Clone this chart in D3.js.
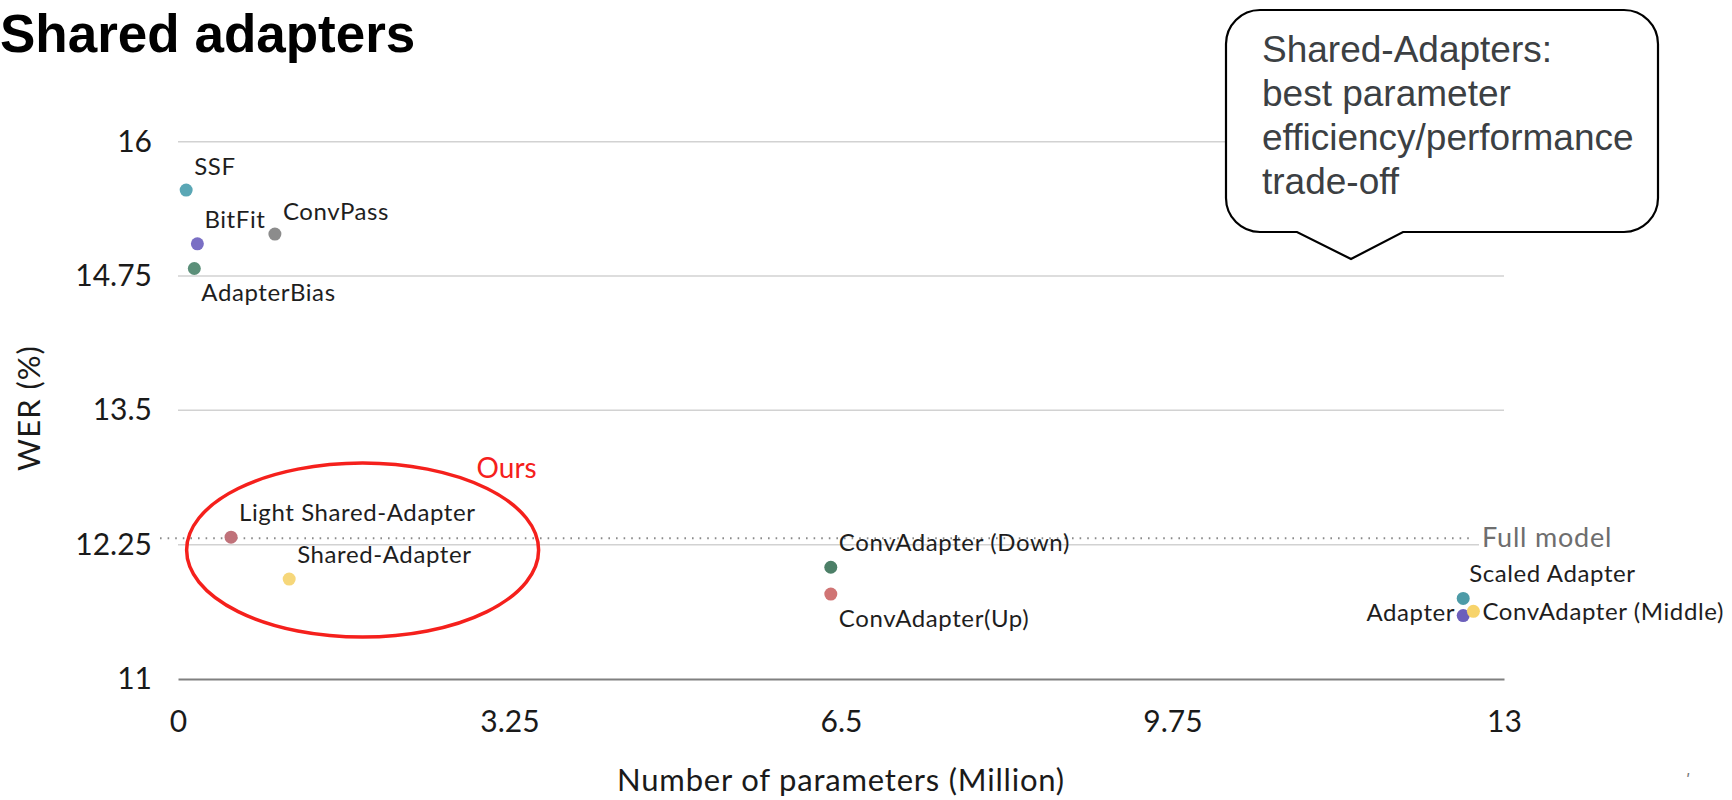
<!DOCTYPE html>
<html>
<head>
<meta charset="utf-8">
<script src="https://cdn.jsdelivr.net/npm/d3@7"></script>
<style>
body{margin:0;background:#fff;}
svg{display:block;}
.axis text{font-family:Lato,"Noto Sans",sans-serif;fill:#1a1a1a;}
</style>
</head>
<body>
<div class="chart"></div>
<script>
// values
const methods = ["SSF","BitFit","AdapterBias","ConvPass","Light Shared-Adapter","Shared-Adapter",
    "ConvAdapter (Down)","ConvAdapter(Up)","Scaled Adapter","Adapter","ConvAdapter (Middle)"];
const params = [0.08,0.19,0.16,0.95,0.52,1.09,6.40,6.40,12.60,12.60,12.70];
const wer = [15.55,15.05,14.82,15.14,12.32,11.93,12.04,11.79,11.75,11.59,11.63];
const fullModelWER = 12.31;
const xTicks = [0,3.25,6.5,9.75,13];
const yTicks = [11,12.25,13.5,14.75,16];
const calloutLines = ["Shared-Adapters:","best parameter","efficiency/performance","trade-off"];

// styling
const pointColors = ["#5aa7b5","#7a6fc4","#5b8f79","#8c8c8c","#c0727a","#f6d77a",
    "#4c7f67","#d07474","#4d9ba7","#6c5fbb","#f7d36a"];
// label offsets [dx, dy, anchor]
const labelPos = {
    "SSF":[8,-15,"start"],
    "BitFit":[7,-16,"start"],
    "AdapterBias":[7,33,"start"],
    "ConvPass":[8,-14,"start"],
    "Light Shared-Adapter":[8,-16,"start"],
    "Shared-Adapter":[8,-16,"start"],
    "ConvAdapter (Down)":[8,-16,"start"],
    "ConvAdapter(Up)":[8,33,"start"],
    "Scaled Adapter":[6,-16,"start"],
    "Adapter":[-8,5,"end"],
    "ConvAdapter (Middle)":[9,9,"start"]
};

const data = methods.map((m,i)=>({name:m, params:params[i], wer:wer[i], color:pointColors[i]}));

const W = 1732, H = 800;
const margin = {top:141.7, left:178, right:228, bottom:121};
const width = W - margin.left - margin.right;
const height = H - margin.top - margin.bottom;
const fmt = d3.format("");

const root = d3.select(".chart").append("svg")
    .attr("width", W)
    .attr("height", H);

root.append("text")
    .attr("x",0)
    .attr("y",52)
    .attr("font-family","'Liberation Sans',Arial,sans-serif")
    .attr("font-weight","bold")
    .attr("font-size",53)
    .attr("fill","#000")
    .text("Shared adapters");

const svg = root.append("g")
    .attr("transform", `translate(${margin.left},${margin.top})`);

const xScale = d3.scaleLinear().domain([0,13]).range([0,width]);
const yScale = d3.scaleLinear().domain([11,16]).range([height,0]);

// gridlines
svg.selectAll(".grid")
    .data(yTicks.filter(d=>d!==11))
    .enter()
    .append("line")
    .attr("class","grid")
    .attr("x1",0)
    .attr("x2",width)
    .attr("y1",d=>yScale(d))
    .attr("y2",d=>yScale(d))
    .attr("stroke","#d2d2d2")
    .attr("stroke-width",1.5);

const yAxis = d3.axisLeft(yScale)
    .tickValues(yTicks)
    .tickFormat(fmt)
    .tickSize(0)
    .tickPadding(26);
svg.append("g")
    .attr("class","axis y-axis")
    .call(yAxis)
    .call(g=>g.select(".domain").remove())
    .selectAll("text")
    .attr("font-size",30);

const xAxis = d3.axisBottom(xScale)
    .tickValues(xTicks)
    .tickFormat(fmt)
    .tickSize(0)
    .tickPadding(32);
svg.append("g")
    .attr("class","axis x-axis")
    .attr("transform",`translate(0,${height})`)
    .call(xAxis)
    .call(g=>g.select(".domain").attr("stroke","#808080").attr("stroke-width",2))
    .selectAll("text")
    .attr("font-size",30);

// full model reference
svg.append("line")
    .attr("x1",-18)
    .attr("x2",width-34)
    .attr("y1",yScale(fullModelWER))
    .attr("y2",yScale(fullModelWER))
    .attr("stroke","#8a8a8a")
    .attr("stroke-width",2)
    .attr("stroke-dasharray","1.6,6");

const fm = svg.append("g");
const fmText = fm.append("text")
    .attr("x",width-22)
    .attr("y",yScale(fullModelWER)+9)
    .attr("font-family","Lato,'Noto Sans',sans-serif")
    .attr("font-size",27)
    .attr("letter-spacing",0.8)
    .attr("fill","#6e6e6e")
    .text("Full model");
const bb = fmText.node().getBBox();
fm.insert("rect","text")
    .attr("x",bb.x-3).attr("y",bb.y).attr("width",bb.width+6).attr("height",bb.height)
    .attr("fill","#fff");

// points
svg.selectAll(".pt")
    .data(data)
    .enter()
    .append("circle")
    .attr("class","pt")
    .attr("cx",d=>xScale(d.params))
    .attr("cy",d=>yScale(d.wer))
    .attr("r",6.5)
    .attr("fill",d=>d.color);

svg.selectAll(".pt-label")
    .data(data)
    .enter()
    .append("text")
    .attr("class","pt-label")
    .attr("x",d=>xScale(d.params)+labelPos[d.name][0])
    .attr("y",d=>yScale(d.wer)+labelPos[d.name][1])
    .attr("text-anchor",d=>labelPos[d.name][2])
    .attr("font-family","Lato,'Noto Sans',sans-serif")
    .attr("font-size",24)
    .attr("letter-spacing",0.6)
    .attr("fill","#1e1e1e")
    .text(d=>d.name);

// "Ours" ellipse
svg.append("ellipse")
    .attr("cx",xScale(1.81))
    .attr("cy",yScale(12.2))
    .attr("rx",176)
    .attr("ry",87)
    .attr("fill","none")
    .attr("stroke","#f5201c")
    .attr("stroke-width",3.5);
svg.append("text")
    .attr("x",xScale(1.81)+114)
    .attr("y",yScale(12.2)-72)
    .attr("font-family","Lato,'Noto Sans',sans-serif")
    .attr("font-size",28)
    .attr("fill","#f5201c")
    .text("Ours");

// axis titles
svg.append("text")
    .attr("x",width/2)
    .attr("y",height+112)
    .attr("text-anchor","middle")
    .attr("font-family","Lato,'Noto Sans',sans-serif")
    .attr("font-size",31)
    .attr("letter-spacing",0.8)
    .attr("fill","#1a1a1a")
    .text("Number of parameters (Million)");

root.append("text")
    .attr("transform","translate(40,408) rotate(-90)")
    .attr("text-anchor","middle")
    .attr("font-family","Lato,'Noto Sans',sans-serif")
    .attr("font-size",31)
    .attr("letter-spacing",1)
    .attr("fill","#1a1a1a")
    .text("WER (%)");

// callout bubble
const L=1226, R=1658, T=10, B=232, rr=34;
root.append("path")
    .attr("d",`M${L+rr},${T} H${R-rr} A${rr},${rr} 0 0 1 ${R},${T+rr} V${B-rr} A${rr},${rr} 0 0 1 ${R-rr},${B}
        H1403 L1351,259 L1297,${B} H${L+rr} A${rr},${rr} 0 0 1 ${L},${B-rr} V${T+rr} A${rr},${rr} 0 0 1 ${L+rr},${T} Z`)
    .attr("fill","#fff")
    .attr("stroke","#000")
    .attr("stroke-width",2.2);

root.selectAll(".callout")
    .data(calloutLines)
    .enter()
    .append("text")
    .attr("class","callout")
    .attr("x",1262)
    .attr("y",(d,i)=>62+i*44)
    .attr("font-family","'Liberation Sans',Arial,sans-serif")
    .attr("font-size",37)
    .attr("fill","#3c4043")
    .text(d=>d);

// small stray mark bottom right
root.append("text")
    .attr("x",1686)
    .attr("y",786)
    .attr("font-family","'DejaVu Sans',sans-serif")
    .attr("font-size",16)
    .attr("fill","#777")
    .text("ʹ");
</script>
</body>
</html>
